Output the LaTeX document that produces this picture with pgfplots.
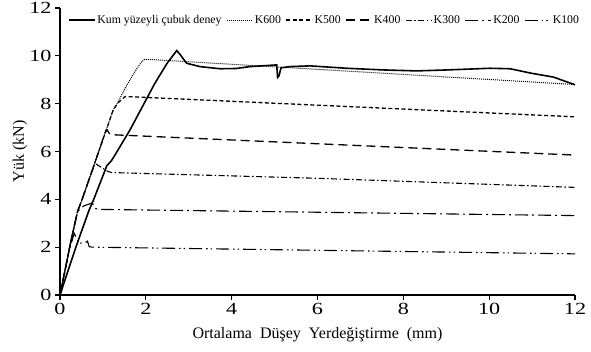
\documentclass[border=0pt]{standalone}
\usepackage{fontspec}
\setmainfont{Liberation Serif}
\usepackage{pgfplots}
\pgfplotsset{compat=1.18}
\begin{document}
\begin{tikzpicture}[x=1pt,y=1pt]
\path[use as bounding box] (0,0) rectangle (591,351);
\begin{axis}[
  at={(60pt,56pt)}, anchor=south west,
  scale only axis, width=515pt, height=287pt,
  xmin=0, xmax=12, ymin=0, ymax=12,
  xtick={0,2,...,12}, ytick={0,2,...,12},
  axis x line*=bottom, axis y line*=left,
  axis line style={line width=1.2pt, black},
  tick align=outside, major tick length=5pt,
  tick style={line width=1.1pt, black},
  /pgf/number format/assume math mode=true,
  xticklabel={\scalebox{1.3}[1]{\pgfmathprintnumber{\tick}}},
  yticklabel={\scalebox{1.3}[1]{\pgfmathprintnumber{\tick}}},
  tick label style={font=\fontsize{17}{19}\selectfont},
  xlabel={Ortalama\ \ Düşey\ \ Yerdeğiştirme\ \ (mm)},
  ylabel={Yük (kN)},
  every axis x label/.style={at={(axis description cs:0.5,-0.139)}, anchor=center, font=\fontsize{16}{18}\selectfont},
  every axis y label/.style={at={(axis description cs:-0.0777,0.5)}, anchor=center, rotate=90, font=\fontsize{16}{18}\selectfont},
  legend columns=-1,
  legend style={draw=none, fill=none, font=\fontsize{11.8}{14}\selectfont,
    at={(axis description cs:0.0155,0.958)}, anchor=west, inner xsep=0pt,
    nodes={inner xsep=0.6pt, inner ysep=1pt},
    /tikz/every odd column/.append style={column sep=1pt},
    /tikz/every even column/.append style={column sep=4pt}},
  legend image code/.code={\draw[#1] (0pt,0pt) -- (26pt,0pt);},
]
% Kum yuzeyli cubuk deney
\addplot[black, line width=1.6pt] coordinates {
(0,0) (0.37,2.0) (0.68,3.56) (0.78,3.97) (1.09,5.4) (1.2,5.62) (1.28,5.85) (1.63,6.9) (2.21,8.85) (2.5,9.7) (2.72,10.22)
(2.8,10.05) (2.95,9.69) (3.26,9.55) (3.73,9.46) (4.1,9.47) (4.43,9.55) (5.05,9.62) (5.07,9.1) (5.1,9.15) (5.15,9.5) (5.36,9.55)
(5.83,9.58) (6.68,9.48) (7.54,9.41) (8.31,9.37) (9.01,9.41) (10.02,9.48) (10.49,9.46) (10.96,9.28) (11.5,9.11) (12,8.79)
};
\addlegendentry{Kum yüzeyli çubuk deney}
% K600
\addplot[black, line width=1pt, dash pattern=on 1pt off 1pt] coordinates {
(0,0) (0.26,2.3) (0.41,3.5) (0.51,3.97) (0.70,4.95) (0.97,6.35) (1.24,7.74) (1.36,8.1) (1.55,8.75) (1.75,9.35) (1.9,9.75) (1.98,9.86) (12,8.8)
};
\addlegendentry{K600}
% K500
\addplot[black, line width=1.3pt, dash pattern=on 4pt off 2.5pt] coordinates {
(0,0) (0.26,2.3) (0.41,3.5) (0.51,3.97) (0.70,4.95) (0.97,6.35) (1.24,7.74) (1.36,8.05) (1.52,8.3) (12,7.45)
};
\addlegendentry{K500}
% K400
\addplot[black, line width=1.3pt, dash pattern=on 9pt off 5pt] coordinates {
(0,0) (0.26,2.3) (0.41,3.5) (0.51,3.97) (0.70,4.95) (0.97,6.35) (1.05,6.8) (1.1,6.9) (1.15,6.75) (1.24,6.7) (12,5.85)
};
\addlegendentry{K400}
% K300
\addplot[black, line width=1.1pt, dash pattern=on 6pt off 2.5pt on 1.5pt off 2.5pt] coordinates {
(0,0) (0.26,2.3) (0.41,3.5) (0.51,3.97) (0.70,4.95) (0.82,5.5) (0.95,5.35) (1.1,5.18) (1.2,5.12) (6,4.88) (12,4.5)
};
\addlegendentry{K300}
% K200
\addplot[black, line width=1.1pt, dash pattern=on 13pt off 4pt on 2pt off 4pt] coordinates {
(0,0) (0.26,2.3) (0.41,3.5) (0.55,3.72) (0.75,3.85) (0.82,3.62) (0.9,3.58) (12,3.32)
};
\addlegendentry{K200}
% K100
\addplot[black, line width=1.1pt, dash pattern=on 13pt off 4pt on 1.5pt off 3pt on 1.5pt off 4pt] coordinates {
(0,0) (0.2,1.75) (0.33,2.58) (0.45,2.16) (0.6,2.2) (0.64,2.25) (0.68,2.02) (0.75,2.0) (12,1.72)
};
\addlegendentry{K100}
\end{axis}
\end{tikzpicture}
\end{document}
